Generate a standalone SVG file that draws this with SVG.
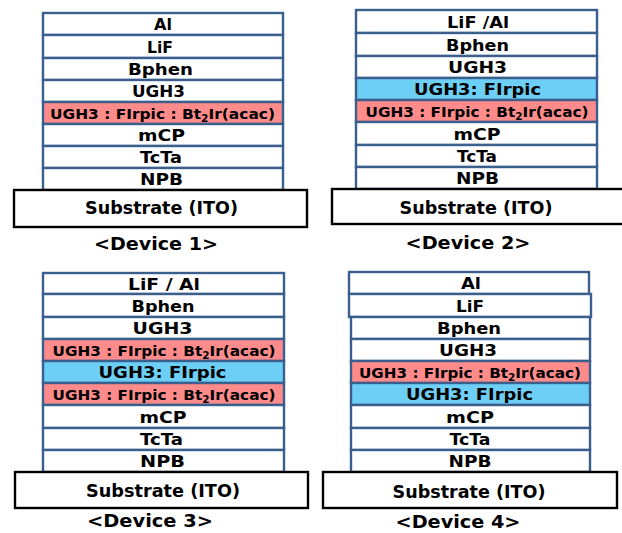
<svg xmlns="http://www.w3.org/2000/svg" width="622" height="533" viewBox="0 0 622 533">
  <style>
    .layer rect { fill: #ffffff; stroke: #3b5f8d; stroke-width: 2.4; }
    .layer.red rect { fill: #ff8b8b; }
    .layer.blue rect { fill: #6dcff5; }
    .sub rect { fill: #ffffff; stroke: #000000; stroke-width: 2.4; }
    text { font-family: "DejaVu Sans", "Noto Sans", "Liberation Sans", sans-serif; font-weight: bold; fill: #000000; text-anchor: middle; }
    .t { font-size: 16px; }
    .ts { font-size: 14.5px; }
    .tsub { font-size: 17px; }
    .cap { font-size: 17px; }
    .low { font-size: 10px; }
  </style>

  <!-- Device 1 stack -->
  <g id="device1">
    <g id="d1-al" class="layer"><rect x="43" y="13" width="240" height="22"/><text class="t" x="163" y="30" textLength="18" lengthAdjust="spacingAndGlyphs">Al</text></g>
    <g id="d1-lif" class="layer"><rect x="43" y="35" width="240" height="23"/><text class="t" x="160" y="52.5" textLength="26" lengthAdjust="spacingAndGlyphs">LiF</text></g>
    <g id="d1-bphen" class="layer"><rect x="43" y="58" width="240" height="22"/><text class="t" x="160.5" y="75" textLength="65" lengthAdjust="spacingAndGlyphs">Bphen</text></g>
    <g id="d1-ugh3" class="layer"><rect x="43" y="80" width="240" height="22"/><text class="t" x="158.5" y="97" textLength="53" lengthAdjust="spacingAndGlyphs">UGH3</text></g>
    <g id="d1-eml" class="layer red"><rect x="43" y="102" width="240" height="22"/><text class="ts" x="162.5" y="118.5" textLength="225" lengthAdjust="spacingAndGlyphs">UGH3 : FIrpic : Bt<tspan class="low" dy="3">2</tspan><tspan dy="-3">Ir(acac)</tspan></text></g>
    <g id="d1-mcp" class="layer"><rect x="43" y="124" width="240" height="22"/><text class="t" x="161.5" y="141" textLength="47" lengthAdjust="spacingAndGlyphs">mCP</text></g>
    <g id="d1-tcta" class="layer"><rect x="43" y="146" width="240" height="22"/><text class="t" x="161" y="163" textLength="42" lengthAdjust="spacingAndGlyphs">TcTa</text></g>
    <g id="d1-npb" class="layer"><rect x="43" y="168" width="240" height="22"/><text class="t" x="161.5" y="185" textLength="43" lengthAdjust="spacingAndGlyphs">NPB</text></g>
    <g id="d1-substrate" class="sub"><rect x="14" y="190" width="293" height="37"/><text class="tsub" x="161.5" y="214" textLength="153" lengthAdjust="spacingAndGlyphs">Substrate (ITO)</text></g>
    <text id="d1-caption" class="cap" x="156" y="250" textLength="124" lengthAdjust="spacingAndGlyphs">&lt;Device 1&gt;</text>
  </g>

  <!-- Device 2 stack -->
  <g id="device2">
    <g id="d2-lifal" class="layer"><rect x="356" y="10" width="241" height="23"/><text class="t" x="478" y="27.5" textLength="62" lengthAdjust="spacingAndGlyphs">LiF /Al</text></g>
    <g id="d2-bphen" class="layer"><rect x="356" y="33" width="241" height="23"/><text class="t" x="477.5" y="50.5" textLength="63" lengthAdjust="spacingAndGlyphs">Bphen</text></g>
    <g id="d2-ugh3" class="layer"><rect x="356" y="56" width="241" height="22"/><text class="t" x="477.5" y="73" textLength="59" lengthAdjust="spacingAndGlyphs">UGH3</text></g>
    <g id="d2-blue" class="layer blue"><rect x="356" y="78" width="241" height="22"/><text class="t" x="477.5" y="95" textLength="127" lengthAdjust="spacingAndGlyphs">UGH3: FIrpic</text></g>
    <g id="d2-eml" class="layer red"><rect x="356" y="100" width="241" height="22"/><text class="ts" x="477" y="116.5" textLength="223" lengthAdjust="spacingAndGlyphs">UGH3 : FIrpic : Bt<tspan class="low" dy="3">2</tspan><tspan dy="-3">Ir(acac)</tspan></text></g>
    <g id="d2-mcp" class="layer"><rect x="356" y="122" width="241" height="23"/><text class="t" x="477" y="139.5" textLength="47" lengthAdjust="spacingAndGlyphs">mCP</text></g>
    <g id="d2-tcta" class="layer"><rect x="356" y="145" width="241" height="22"/><text class="t" x="477" y="162" textLength="40" lengthAdjust="spacingAndGlyphs">TcTa</text></g>
    <g id="d2-npb" class="layer"><rect x="356" y="167" width="241" height="22"/><text class="t" x="477.5" y="184" textLength="43" lengthAdjust="spacingAndGlyphs">NPB</text></g>
    <g id="d2-substrate" class="sub"><rect x="332" y="189" width="300" height="35"/><text class="tsub" x="476" y="213.5" textLength="153" lengthAdjust="spacingAndGlyphs">Substrate (ITO)</text></g>
    <text id="d2-caption" class="cap" x="468" y="249" textLength="125" lengthAdjust="spacingAndGlyphs">&lt;Device 2&gt;</text>
  </g>

  <!-- Device 3 stack -->
  <g id="device3">
    <g id="d3-lifal" class="layer"><rect x="43" y="273" width="241" height="21"/><text class="t" x="164" y="289.5" textLength="72" lengthAdjust="spacingAndGlyphs">LiF / Al</text></g>
    <g id="d3-bphen" class="layer"><rect x="43" y="294" width="241" height="23"/><text class="t" x="163" y="311.5" textLength="63" lengthAdjust="spacingAndGlyphs">Bphen</text></g>
    <g id="d3-ugh3" class="layer"><rect x="43" y="317" width="241" height="22"/><text class="t" x="162.5" y="334" textLength="60" lengthAdjust="spacingAndGlyphs">UGH3</text></g>
    <g id="d3-eml-top" class="layer red"><rect x="43" y="339" width="241" height="22"/><text class="ts" x="164" y="355.5" textLength="223" lengthAdjust="spacingAndGlyphs">UGH3 : FIrpic : Bt<tspan class="low" dy="3">2</tspan><tspan dy="-3">Ir(acac)</tspan></text></g>
    <g id="d3-blue" class="layer blue"><rect x="43" y="361" width="241" height="22"/><text class="t" x="162.5" y="378" textLength="128" lengthAdjust="spacingAndGlyphs">UGH3: FIrpic</text></g>
    <g id="d3-eml-bottom" class="layer red"><rect x="43" y="383" width="241" height="22"/><text class="ts" x="164" y="399.5" textLength="223" lengthAdjust="spacingAndGlyphs">UGH3 : FIrpic : Bt<tspan class="low" dy="3">2</tspan><tspan dy="-3">Ir(acac)</tspan></text></g>
    <g id="d3-mcp" class="layer"><rect x="43" y="405" width="241" height="23"/><text class="t" x="163" y="422.5" textLength="47" lengthAdjust="spacingAndGlyphs">mCP</text></g>
    <g id="d3-tcta" class="layer"><rect x="43" y="428" width="241" height="22"/><text class="t" x="161.5" y="445" textLength="43" lengthAdjust="spacingAndGlyphs">TcTa</text></g>
    <g id="d3-npb" class="layer"><rect x="43" y="450" width="241" height="22"/><text class="t" x="162.5" y="467" textLength="45" lengthAdjust="spacingAndGlyphs">NPB</text></g>
    <g id="d3-substrate" class="sub"><rect x="15" y="472" width="293" height="36"/><text class="tsub" x="163" y="496.5" textLength="154" lengthAdjust="spacingAndGlyphs">Substrate (ITO)</text></g>
    <text id="d3-caption" class="cap" x="150" y="527" textLength="126" lengthAdjust="spacingAndGlyphs">&lt;Device 3&gt;</text>
  </g>

  <!-- Device 4 stack -->
  <g id="device4">
    <g id="d4-al" class="layer"><rect x="349" y="272" width="240" height="22"/><text class="t" x="471" y="289" textLength="20" lengthAdjust="spacingAndGlyphs">Al</text></g>
    <g id="d4-lif" class="layer"><rect x="349" y="294" width="242" height="23"/><text class="t" x="470" y="311.5" textLength="28" lengthAdjust="spacingAndGlyphs">LiF</text></g>
    <g id="d4-bphen" class="layer"><rect x="351" y="317" width="239" height="22"/><text class="t" x="469" y="334" textLength="64" lengthAdjust="spacingAndGlyphs">Bphen</text></g>
    <g id="d4-ugh3" class="layer"><rect x="351" y="339" width="239" height="22"/><text class="t" x="468" y="356" textLength="58" lengthAdjust="spacingAndGlyphs">UGH3</text></g>
    <g id="d4-eml" class="layer red"><rect x="351" y="361" width="239" height="22"/><text class="ts" x="470" y="377.5" textLength="222" lengthAdjust="spacingAndGlyphs">UGH3 : FIrpic : Bt<tspan class="low" dy="3">2</tspan><tspan dy="-3">Ir(acac)</tspan></text></g>
    <g id="d4-blue" class="layer blue"><rect x="351" y="383" width="239" height="22"/><text class="t" x="469.5" y="400" textLength="127" lengthAdjust="spacingAndGlyphs">UGH3: FIrpic</text></g>
    <g id="d4-mcp" class="layer"><rect x="351" y="405" width="239" height="23"/><text class="t" x="470" y="422.5" textLength="48" lengthAdjust="spacingAndGlyphs">mCP</text></g>
    <g id="d4-tcta" class="layer"><rect x="351" y="428" width="239" height="22"/><text class="t" x="470" y="445" textLength="41" lengthAdjust="spacingAndGlyphs">TcTa</text></g>
    <g id="d4-npb" class="layer"><rect x="351" y="450" width="239" height="22"/><text class="t" x="470" y="467" textLength="43" lengthAdjust="spacingAndGlyphs">NPB</text></g>
    <g id="d4-substrate" class="sub"><rect x="323" y="472" width="294" height="36"/><text class="tsub" x="469" y="497.5" textLength="153" lengthAdjust="spacingAndGlyphs">Substrate (ITO)</text></g>
    <text id="d4-caption" class="cap" x="458" y="528" textLength="125" lengthAdjust="spacingAndGlyphs">&lt;Device 4&gt;</text>
  </g>
</svg>
